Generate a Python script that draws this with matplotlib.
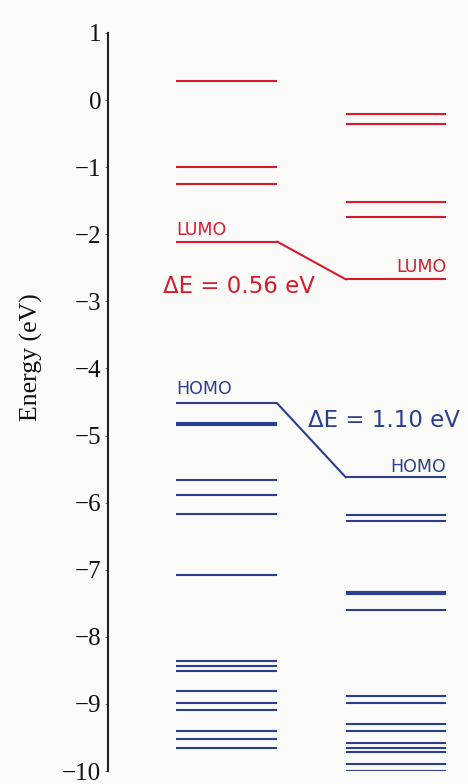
import numpy as np
import matplotlib
matplotlib.use('Agg')
import matplotlib.pyplot as plt

# 能级数据 (eV)，左列 / 右列
left_lumo = -2.11
right_lumo = -2.67
left_homo = -4.52
right_homo = -5.62

left_unocc = [0.29, -1.00, -1.25]
right_unocc = [-0.20, -0.36, -1.52, -1.75]

left_occ = [-5.67, -5.89, -6.17, -7.08, -8.36, -8.43, -8.51, -8.81, -8.99, -9.09, -9.40, -9.53, -9.66]
left_occ_thick = [-4.83]
right_occ = [-6.19, -6.27, -7.60, -8.88, -8.98, -9.30, -9.40, -9.58, -9.65, -9.72, -9.89, -10.0]
right_occ_thick = [-7.34]

gap_lumo = '\u0394E = 0.56 eV'
gap_homo = '\u0394E = 1.10 eV'

red = '#d61c2c'
blue = '#2c3e8e'
bg = '#fafaf8'

xl = (0.19, 0.47)
xr = (0.66, 0.94)

fig = plt.figure(figsize=(4.68, 7.84), dpi=100, facecolor=bg)
ax = fig.add_axes([108/468, 13/784, 360/468, 738/784], facecolor=bg)

def levels(x, ys, c, lw=1.5):
    for y in ys:
        ax.plot(x, [y, y], color=c, lw=lw, solid_capstyle='butt')

levels(xl, left_unocc + [left_lumo], red)
levels(xr, right_unocc + [right_lumo], red)
levels(xl, left_occ + [left_homo], blue)
levels(xr, right_occ + [right_homo], blue)
levels(xl, left_occ_thick, blue, lw=3)
levels(xr, right_occ_thick, blue, lw=3)

# 连接线
ax.plot([xl[1], xr[0]], [left_lumo, right_lumo], color=red, lw=1.5)
ax.plot([xl[1], xr[0]], [left_homo, right_homo], color=blue, lw=1.5)

sans = 'DejaVu Sans'
ax.text(xl[0], -2.01, 'LUMO', color=red, fontsize=12.5, family=sans, ha='left', va='baseline')
ax.text(xr[1], -2.56, 'LUMO', color=red, fontsize=12.5, family=sans, ha='right', va='baseline')
ax.text(0.153, -2.875, gap_lumo, color=red, fontsize=16.5, family=sans, ha='left', va='baseline')
ax.text(xl[0], -4.38, 'HOMO', color=blue, fontsize=12.5, family=sans, ha='left', va='baseline')
ax.text(xr[1], -5.54, 'HOMO', color=blue, fontsize=12.5, family=sans, ha='right', va='baseline')
ax.text(0.556, -4.87, gap_homo, color=blue, fontsize=16.5, family=sans, ha='left', va='baseline')

ax.set_xlim(0, 1)
ax.set_ylim(-10, 1)
ax.set_yticks(np.arange(-10, 2, 1))
ax.set_xticks([])
for s in ['top', 'right', 'bottom']:
    ax.spines[s].set_visible(False)
ax.spines['left'].set_color('#222222')
ax.spines['left'].set_linewidth(1.5)
ax.tick_params(axis='y', direction='out', length=2.5, width=0.8, color='#777777',
               labelsize=18, pad=2.5, labelcolor='#111111')
for lab in ax.get_yticklabels():
    lab.set_family('Liberation Serif')

fig.text(31/468, 1 - 357.5/784, 'Energy (eV)', rotation=90, ha='center', va='center',
         fontsize=18.5, family='Liberation Serif', color='#111111')

fig.savefig('out.png', dpi=100, facecolor=bg)
